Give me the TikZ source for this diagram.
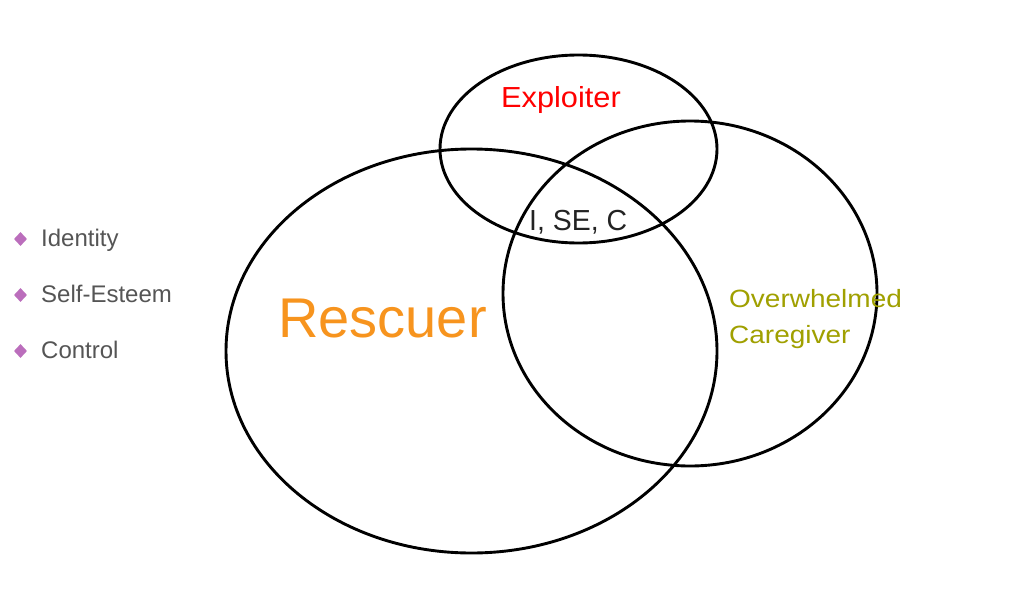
\documentclass[tikz,border=0pt]{standalone}
\usepackage{fontspec}
\setmainfont{Liberation Sans}
\usetikzlibrary{shapes.geometric}
\definecolor{rescuerorange}{RGB}{247,148,30}
\definecolor{exploitred}{RGB}{255,0,0}
\definecolor{carolive}{RGB}{160,160,0}
\definecolor{bulletpurple}{RGB}{187,110,188}
\definecolor{listgray}{RGB}{85,85,85}
\definecolor{coregray}{RGB}{35,35,35}
\begin{document}
\begin{tikzpicture}[x=1pt,y=-1pt]
\tikzset{
  ring/.style={draw=black, line width=2.9pt},
  bulletmark/.style={diamond, fill=bulletpurple, draw=none, minimum width=13pt, minimum height=14pt, inner sep=0pt},
  listtext/.style={anchor=base west, inner sep=0pt, text=listgray, font=\fontsize{24pt}{28pt}\selectfont},
  lbl/.style={anchor=base west, inner sep=0pt}
}
\useasboundingbox (0,0) rectangle (1024,607);
\fill[white] (0,0) rectangle (1024,607);

% circles
\draw[ring] (471.5,351) ellipse [x radius=245.5pt, y radius=202pt];
\draw[ring] (578.5,149) ellipse [x radius=138.5pt, y radius=94pt];
\draw[ring] (690,293.5) ellipse [x radius=187pt, y radius=172.5pt];

% labels
\node[lbl, text=rescuerorange, font=\fontsize{56pt}{60pt}\selectfont] (rescuer) at (278,337) {Rescuer};
\node[lbl, text=exploitred, font=\fontsize{29pt}{32pt}\selectfont] (exploiter) at (501,107) {\scalebox{1.06}[1]{Exploiter}};
\node[lbl, text=coregray, font=\fontsize{29pt}{32pt}\selectfont] (core) at (529,230) {\scalebox{0.98}[1]{I, SE, C}};
\node[lbl, text=carolive, font=\fontsize{25pt}{28pt}\selectfont] (over) at (729,307) {\scalebox{1.12}[1]{Overwhelmed}};
\node[lbl, text=carolive, font=\fontsize{25pt}{28pt}\selectfont] (care) at (729,343) {\scalebox{1.12}[1]{Caregiver}};

% bullet list
\node[bulletmark] (b1) at (20.5,239) {};
\node[listtext] (t1) at (41,246) {Identity};
\node[bulletmark] (b2) at (20.5,295) {};
\node[listtext] (t2) at (41,302) {Self-Esteem};
\node[bulletmark] (b3) at (20.5,351) {};
\node[listtext] (t3) at (41,358) {Control};
\end{tikzpicture}
\end{document}
